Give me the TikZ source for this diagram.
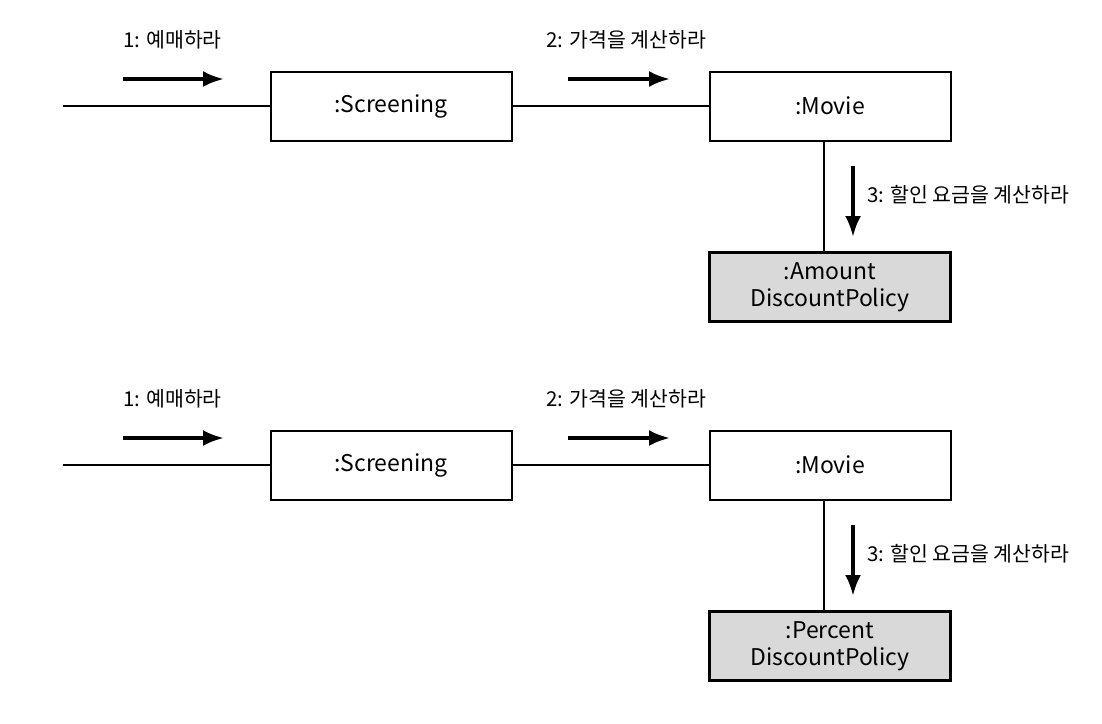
\documentclass[tikz,border=0pt]{standalone}
\usepackage{fontspec}
\setmainfont{Noto Sans CJK KR}
\usetikzlibrary{arrows.meta,positioning}

\begin{document}
\begin{tikzpicture}[x=1pt,y=-1pt,
          obj/.style={draw,rectangle,line width=2pt,minimum width=241pt,minimum height=69pt,inner sep=0pt,align=center,font=\fontsize{23}{27}\selectfont},
          policy/.style={obj,fill=gray!30,line width=3pt},
          lab/.style={anchor=west,inner sep=0pt,font=\fontsize{20.5}{24}\selectfont},
          link/.style={draw,line width=1.4pt},
          msg/.style={draw,line width=3.6pt,-{Latex[length=21pt,width=16pt]}}
        ]
        \useasboundingbox (0,0) rectangle (1102,723);

        %top diagram
        \node[obj] (scr1) at (391,106) {:Screening};
        \node[obj,right of=scr1,node distance=439pt] (mov1) {:Movie};
        \node[policy,below of=mov1,node distance=181pt] (pol1) {:Amount\\DiscountPolicy};
        \coordinate (in1) at (63,106);
        \path[link]
        (in1) -- (scr1)
        (scr1) -- (mov1)
        ([xshift=-6pt]mov1.south) -- ([xshift=-6pt]pol1.north)
        ;

        %messages
        \node[lab] (m11) at (123,40) {1: 예매하라};
        \node[lab] (m12) at (546,40) {2: 가격을 계산하라};
        \node[lab] (m13) at (867,195) {3: 할인 요금을 계산하라};
        \coordinate (a11) at (123,79);
        \coordinate (b11) at (224,79);
        \coordinate (a12) at (568,79);
        \coordinate (b12) at (670,79);
        \coordinate (a13) at (853,166);
        \coordinate (b13) at (853,237);
        \path[msg] (a11) -- (b11);
        \path[msg] (a12) -- (b12);
        \path[msg] (a13) -- (b13);

        %bottom diagram
        \node[obj] (scr2) at (391,465) {:Screening};
        \node[obj,right of=scr2,node distance=439pt] (mov2) {:Movie};
        \node[policy,below of=mov2,node distance=181pt] (pol2) {:Percent\\DiscountPolicy};
        \coordinate (in2) at (63,465);
        \path[link]
        (in2) -- (scr2)
        (scr2) -- (mov2)
        ([xshift=-6pt]mov2.south) -- ([xshift=-6pt]pol2.north)
        ;

        %messages
        \node[lab] (m21) at (123,399) {1: 예매하라};
        \node[lab] (m22) at (546,399) {2: 가격을 계산하라};
        \node[lab] (m23) at (867,554) {3: 할인 요금을 계산하라};
        \coordinate (a21) at (123,438);
        \coordinate (b21) at (224,438);
        \coordinate (a22) at (568,438);
        \coordinate (b22) at (670,438);
        \coordinate (a23) at (853,525);
        \coordinate (b23) at (853,596);
        \path[msg] (a21) -- (b21);
        \path[msg] (a22) -- (b22);
        \path[msg] (a23) -- (b23);
    \end{tikzpicture}
\end{document}
